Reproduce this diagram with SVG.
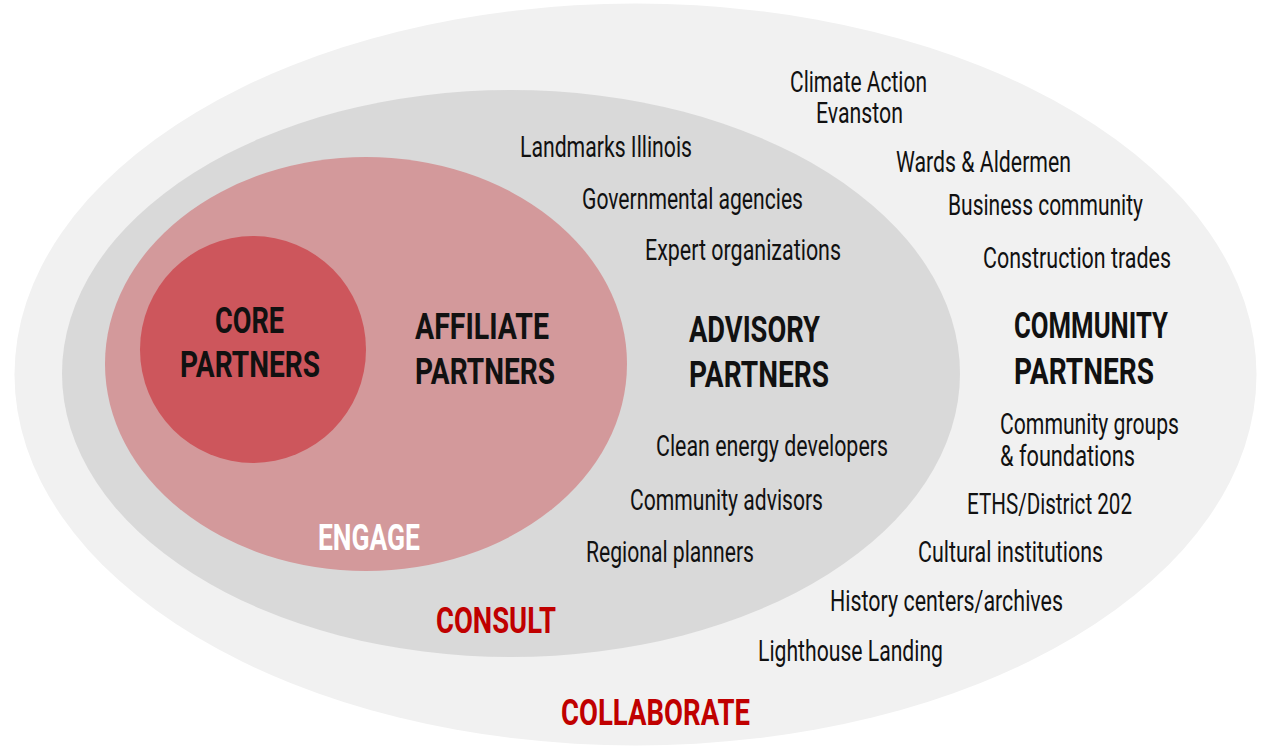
<svg xmlns="http://www.w3.org/2000/svg" width="1270" height="747" viewBox="0 0 1270 747">
<style>
.t{font-family:"Roboto","Liberation Sans",sans-serif;font-size:29.5px;fill:#111;}
.b{font-family:"Roboto","Liberation Sans",sans-serif;font-size:37px;font-weight:bold;fill:#111;}
.r{fill:#c00000;}
.w{fill:#ffffff;}
</style>
<rect width="1270" height="747" fill="#ffffff"/>
<g id="collaborate">
<ellipse cx="635.5" cy="374.5" rx="621" ry="371" fill="#f1f1f1"/>
</g>
<g id="consult">
<ellipse cx="511" cy="373.5" rx="449" ry="283.5" fill="#d9d9d9"/>
</g>
<g id="engage">
<ellipse cx="366" cy="364" rx="261" ry="207" fill="#d3999b"/>
</g>
<g id="core">
<ellipse cx="253" cy="349.5" rx="113" ry="113.5" fill="#cd565c"/>
<text class="b" x="215" y="333" textLength="69" lengthAdjust="spacingAndGlyphs">CORE</text>
<text class="b" x="180" y="377" textLength="140" lengthAdjust="spacingAndGlyphs">PARTNERS</text>
</g>
<g id="affiliate">
<text class="b" x="415" y="339" textLength="134" lengthAdjust="spacingAndGlyphs">AFFILIATE</text>
<text class="b" x="415" y="384" textLength="140" lengthAdjust="spacingAndGlyphs">PARTNERS</text>
<text class="b w" x="318" y="550" textLength="102" lengthAdjust="spacingAndGlyphs">ENGAGE</text>
</g>
<g id="advisory">
<text class="b" x="689" y="342" textLength="131" lengthAdjust="spacingAndGlyphs">ADVISORY</text>
<text class="b" x="689" y="387" textLength="140" lengthAdjust="spacingAndGlyphs">PARTNERS</text>
<text class="b r" x="436" y="633" textLength="120" lengthAdjust="spacingAndGlyphs">CONSULT</text>
<text class="t" x="520" y="157" textLength="172" lengthAdjust="spacingAndGlyphs">Landmarks Illinois</text>
<text class="t" x="582" y="209" textLength="221" lengthAdjust="spacingAndGlyphs">Governmental agencies</text>
<text class="t" x="645" y="260" textLength="196" lengthAdjust="spacingAndGlyphs">Expert organizations</text>
<text class="t" x="656" y="456" textLength="232" lengthAdjust="spacingAndGlyphs">Clean energy developers</text>
<text class="t" x="630" y="510" textLength="193" lengthAdjust="spacingAndGlyphs">Community advisors</text>
<text class="t" x="586" y="562" textLength="168" lengthAdjust="spacingAndGlyphs">Regional planners</text>
</g>
<g id="community">
<text class="b" x="1014" y="338" textLength="154" lengthAdjust="spacingAndGlyphs">COMMUNITY</text>
<text class="b" x="1014" y="384" textLength="140" lengthAdjust="spacingAndGlyphs">PARTNERS</text>
<text class="b r" x="561" y="725" textLength="189" lengthAdjust="spacingAndGlyphs">COLLABORATE</text>
<text class="t" x="790" y="92" textLength="137" lengthAdjust="spacingAndGlyphs">Climate Action</text>
<text class="t" x="816" y="123" textLength="87" lengthAdjust="spacingAndGlyphs">Evanston</text>
<text class="t" x="896" y="172" textLength="175" lengthAdjust="spacingAndGlyphs">Wards &amp; Aldermen</text>
<text class="t" x="948" y="215" textLength="195" lengthAdjust="spacingAndGlyphs">Business community</text>
<text class="t" x="983" y="268" textLength="188" lengthAdjust="spacingAndGlyphs">Construction trades</text>
<text class="t" x="1000" y="434" textLength="179" lengthAdjust="spacingAndGlyphs">Community groups</text>
<text class="t" x="1000" y="466" textLength="135" lengthAdjust="spacingAndGlyphs">&amp; foundations</text>
<text class="t" x="967" y="514" textLength="165" lengthAdjust="spacingAndGlyphs">ETHS/District 202</text>
<text class="t" x="918" y="562" textLength="185" lengthAdjust="spacingAndGlyphs">Cultural institutions</text>
<text class="t" x="830" y="611" textLength="233" lengthAdjust="spacingAndGlyphs">History centers/archives</text>
<text class="t" x="758" y="661" textLength="185" lengthAdjust="spacingAndGlyphs">Lighthouse Landing</text>
</g>
<g id="connectors"/>
</svg>
